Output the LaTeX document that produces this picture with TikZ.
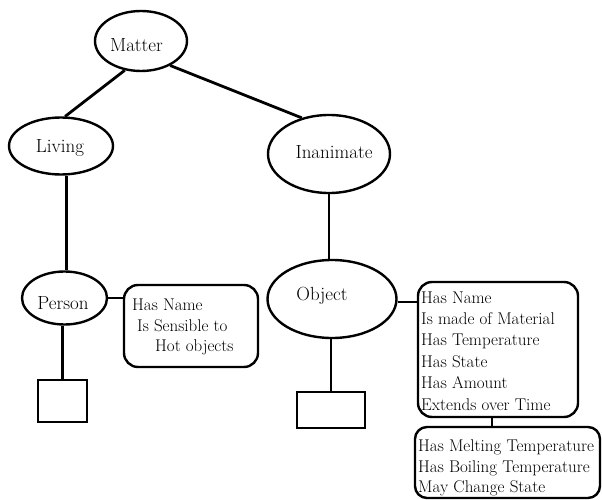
\documentclass[tikz,border=0pt]{standalone}
\usetikzlibrary{shapes.geometric}
\begin{document}
\begin{tikzpicture}[x=1pt,y=-1pt,
  ell/.style={draw,ellipse,line width=2.4pt,inner sep=0pt},
  lab/.style={anchor=base,inner sep=0pt,font=\fontsize{19}{21}\selectfont},
  infobox/.style={draw,rounded corners=14pt,line width=2.4pt,inner sep=0pt},
  sqbox/.style={draw,rectangle,line width=2.4pt,inner sep=0pt},
  txt/.style={anchor=base west,inner sep=0pt,font=\fontsize{17}{21}\selectfont},
  link/.style={line width=2.8pt}]
\useasboundingbox (0,0) rectangle (602,500);
% ellipses
\node[ell,minimum width=92pt,minimum height=60pt] (matter) at (141,41) {};
\node[ell,minimum width=104pt,minimum height=57pt] (living) at (61,146) {};
\node[ell,minimum width=122pt,minimum height=78pt] (inan) at (329,154) {};
\node[ell,minimum width=85pt,minimum height=53pt] (person) at (64.5,298) {};
\node[ell,minimum width=129pt,minimum height=78pt] (obj) at (332,299) {};
% labels
\node[lab] (lmatter) at (136.5,52) {Matter};
\node[lab] (lliving) at (60,152) {Living};
\node[lab] (linan) at (334,158) {Inanimate};
\node[lab] (lperson) at (63,309) {Person};
\node[lab] (lobj) at (322,300) {Object};
% squares
\node[sqbox,minimum width=49pt,minimum height=42pt] (sq1) at (62.5,401) {};
\node[sqbox,minimum width=68pt,minimum height=36pt] (sq2) at (331,410) {};
% info boxes
\node[infobox,minimum width=134pt,minimum height=82pt] (pbox) at (191,326) {};
\node[infobox,minimum width=160pt,minimum height=135pt] (obox) at (498,349.5) {};
\node[infobox,rounded corners=12pt,minimum width=185pt,minimum height=71pt] (mbox) at (507.5,462.5) {};
% box texts
\node[txt] (p1) at (132,310) {Has Name};
\node[txt] (p2) at (137,331) {Is Sensible to};
\node[txt] (p3) at (155,351) {Hot objects};
\node[txt] (o1) at (421,303) {Has Name};
\node[txt] (o2) at (421,324.4) {Is made of Material};
\node[txt] (o3) at (421,345.8) {Has Temperature};
\node[txt] (o4) at (421,367.2) {Has State};
\node[txt] (o5) at (421,388.6) {Has Amount};
\node[txt] (o6) at (421,410) {Extends over Time};
\node[txt] (m1) at (418,451) {Has Melting Temperature};
\node[txt] (m2) at (418,472) {Has Boiling Temperature};
\node[txt] (m3) at (418,492) {May Change State};
% connectors
\coordinate (xl) at (66.5,0);
\coordinate (xc) at (492,0);
\draw[link] (matter.241) -- (living.82);
\draw[link] (matter.320) -- (inan.127);
\draw[link] (living.south -| xl) -- (person.north -| xl);
\draw[link] (sq1.north |- person.south) -- (sq1.north);
\draw[link] (inan.south) -- (inan.south |- obj.north);
\draw[link] (sq2.north |- obj.south) -- (sq2.north);
\draw[link] (person.east) -- (pbox.west |- person.east);
\coordinate (oy) at (0,302);
\draw[link] (obj.east |- oy) -- (obox.west |- oy);
\draw[link] (obox.south -| xc) -- (mbox.north -| xc);
\end{tikzpicture}
\end{document}
